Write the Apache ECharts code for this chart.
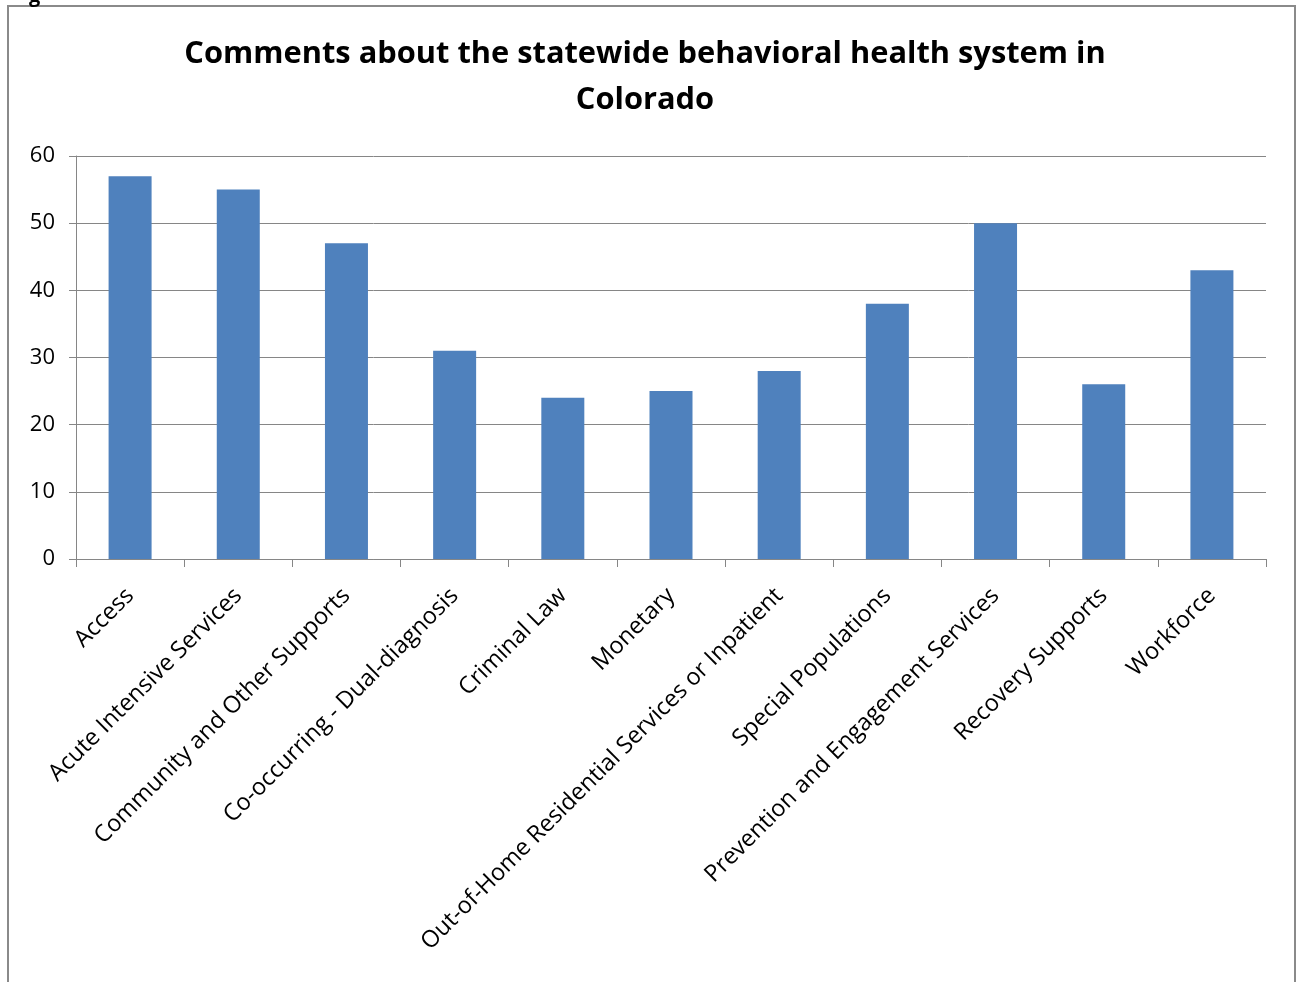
<!DOCTYPE html>
<html><head><meta charset="utf-8">
<script src="https://cdn.jsdelivr.net/npm/echarts@6/dist/echarts.min.js"></script>
<style>html,body{margin:0;padding:0;background:#fff}#c{width:1297px;height:982px}</style>
</head><body><div id="c"></div>
<script>
const categories = ["Access","Acute Intensive Services","Community and Other Supports","Co-occurring - Dual-diagnosis","Criminal Law","Monetary","Out-of-Home Residential Services or Inpatient","Special Populations","Prevention and Engagement Services","Recovery Supports","Workforce"];
const comments = [57,55,47,31,24,25,28,38,50,26,43];
const yTicks = {min:0,max:60,interval:10};
const chart = echarts.init(document.getElementById('c'));
chart.setOption({
  animation:false,
  backgroundColor:'#fff',
  title:{text:'Comments about the statewide behavioral health system in\nColorado',left:640,textAlign:'center',top:26,
    textStyle:{fontFamily:'Open Sans',fontWeight:'bold',fontSize:30.8,color:'#000',lineHeight:46}},
  graphic:[
    {type:'rect',shape:{x:8,y:6,width:1287,height:1000},style:{fill:'none',stroke:'#8a8a8a',lineWidth:2}},
    {type:'text',left:29,top:-14,style:{text:'g',font:'bold 20px "Open Sans"',fill:'#000'}}
  ],
  grid:{left:76,right:31,top:156,bottom:423,containLabel:false},
  xAxis:{type:'category',data:categories,
    axisLine:{lineStyle:{color:'#868686',width:1}},
    axisTick:{show:true,length:8,alignWithLabel:false,lineStyle:{color:'#868686'}},
    axisLabel:{rotate:45,interval:0,margin:33,fontFamily:'Open Sans',fontSize:23.5,color:'#000'}},
  yAxis:{type:'value',min:yTicks.min,max:yTicks.max,interval:yTicks.interval,
    axisLine:{show:true,lineStyle:{color:'#868686'}},
    axisTick:{show:true,length:7,inside:false,lineStyle:{color:'#868686'}},
    splitLine:{lineStyle:{color:'#868686',width:1}},
    axisLabel:{fontFamily:'Open Sans',fontSize:22,color:'#000',margin:21}},
  series:[{type:'bar',data:comments,barWidth:43,itemStyle:{color:'#4F81BD'}}]
});
</script></body></html>
